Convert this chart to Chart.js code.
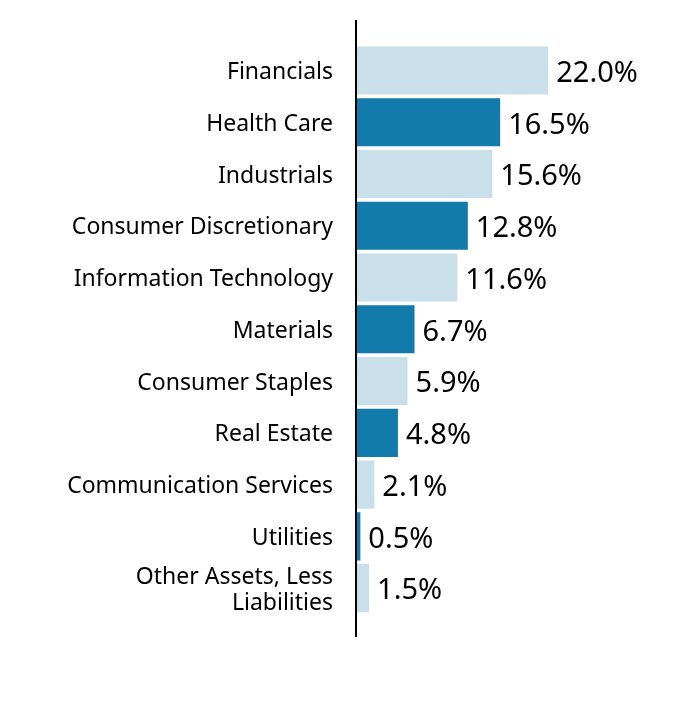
<!DOCTYPE html>
<html>
<head>
<meta charset="utf-8">
<script src="https://cdn.jsdelivr.net/npm/chart.js@4/dist/chart.umd.min.js"></script>
<style>
    html, body { margin: 0; padding: 0; background: #fff; }
    #wrap { width: 696px; height: 708px; }
</style>
</head>
<body>
<div id="wrap"><canvas id="sectorChart"></canvas></div>
<script>
const sectors = [
    "Financials",
    "Health Care",
    "Industrials",
    "Consumer Discretionary",
    "Information Technology",
    "Materials",
    "Consumer Staples",
    "Real Estate",
    "Communication Services",
    "Utilities",
    ["Other Assets, Less", "Liabilities"]
];
const weights = [22.0, 16.5, 15.6, 12.8, 11.6, 6.7, 5.9, 4.8, 2.1, 0.5, 1.5];

const lightBlue = "#c9e0eb";
const darkBlue = "#137bac";
const fontFamily = "'Noto Sans', sans-serif";

// value labels at the end of each bar
const valueLabels = {
    id: "valueLabels",
    afterDatasetsDraw(chart) {
        const ctx = chart.ctx;
        const meta = chart.getDatasetMeta(0);
        ctx.save();
        ctx.font = "29px " + fontFamily;
        ctx.fillStyle = "#000";
        ctx.textAlign = "left";
        ctx.textBaseline = "middle";
        meta.data.forEach((bar, i) => {
            ctx.fillText(weights[i].toFixed(1) + "%", bar.x + 8, bar.y + 3);
        });
        ctx.restore();
    }
};

// vertical axis line, runs a bit past the bars
const axisLine = {
    id: "axisLine",
    afterDraw(chart) {
        const { ctx, chartArea } = chart;
        ctx.save();
        ctx.strokeStyle = "#000";
        ctx.lineWidth = 2;
        ctx.beginPath();
        ctx.moveTo(chartArea.left, 20);
        ctx.lineTo(chartArea.left, 637);
        ctx.stroke();
        ctx.restore();
    }
};

new Chart(document.getElementById("sectorChart"), {
    type: "bar",
    data: {
        labels: sectors,
        datasets: [{
            data: weights,
            backgroundColor: weights.map((v, i) => i % 2 === 0 ? lightBlue : darkBlue),
            borderWidth: 0,
            categoryPercentage: 1,
            barPercentage: 0.93
        }]
    },
    options: {
        indexAxis: "y",
        responsive: true,
        maintainAspectRatio: false,
        animation: false,
        layout: { padding: { top: 44.6, bottom: 94, right: 8, left: 0 } },
        plugins: {
            legend: { display: false },
            tooltip: { enabled: false }
        },
        scales: {
            x: {
                display: false,
                min: 0,
                max: 38
            },
            y: {
                afterFit(scale) {
                    scale.width = 356;
                    scale.paddingTop = 0;
                    scale.paddingBottom = 0;
                },
                grid: { display: false, drawTicks: false },
                border: { display: false },
                ticks: {
                    color: "#000",
                    padding: 23,
                    autoSkip: false,
                    labelOffset: 2,
                    font: { family: fontFamily, size: 23, lineHeight: 1.13 }
                }
            }
        }
    },
    plugins: [valueLabels, axisLine]
});
</script>
</body>
</html>
